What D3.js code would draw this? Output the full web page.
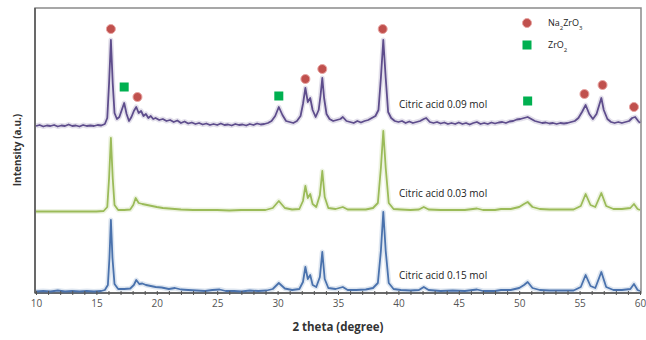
<!DOCTYPE html>
<html>
<head>
<meta charset="utf-8">
<script src="https://cdn.jsdelivr.net/npm/d3@7"></script>
<style>
  body { margin: 0; background: #fff; }
  svg { display: block; font-family: "Open Sans", sans-serif; }
</style>
</head>
<body>
<div id="chart"></div>
<script>
// x range of the scan (2 theta, degrees) and tick labels
const xTicks = [10, 15, 20, 25, 30, 35, 40, 45, 50, 55, 60]

// series names, colours and vertical offsets (a.u.)
const seriesNames = ["Citric acid 0.15 mol", "Citric acid 0.03 mol", "Citric acid 0.09 mol"]
const seriesColors = ["#4a72ad", "#9bbb59", "#5e4d8c"]
const seriesOffsets = [0, 80, 165]

// [2theta, intensity], one list per sample
const acid015 = [
  [10,1.5],[10.6,2],[11.2,1.5],[11.8,2.5],[12.4,1.5],[13,2],[13.6,1.5],[14.2,2],[14.8,1.5],[15.4,2],
  [15.7,3],[15.95,8],[16.08,35],[16.2,73],[16.33,35],[16.5,9],[16.8,4],[17.3,4],[17.8,4.5],[18.1,8],
  [18.3,13],[18.55,9],[18.8,9.5],[19.1,8],[19.5,7],[19.9,6],[20.4,5.5],[21,4],[21.5,5],[22,3.5],
  [22.6,3],[23.3,2.5],[24,2],[24.6,3],[25.2,3.5],[25.7,2],[26.4,2],[27,1.5],[27.7,2.5],[28.4,2],
  [29.1,2.5],[29.6,4],[30.1,10],[30.6,4.5],[31.2,3],[31.8,4],[32.1,11],[32.3,26],[32.5,14],[32.7,18],
  [32.9,8],[33.2,6],[33.5,16],[33.7,41],[33.9,14],[34.2,5],[34.8,4],[35.4,6],[35.8,3],[36.5,3],
  [37.3,3.5],[37.9,5],[38.3,10],[38.55,42],[38.75,81],[38.95,42],[39.2,10],[39.6,4],[40.2,3],[41,2.5],
  [41.7,3],[42.1,6],[42.5,3],[43.5,2],[44.5,2.5],[45.5,2],[46.5,3.5],[47,2],[48,2],[48.5,3],
  [49.3,3],[50,5],[50.4,8],[50.7,11],[51.1,5],[51.7,3],[52.5,2.5],[53.5,2.5],[54.5,2.5],[55.1,6],
  [55.5,18],[55.9,7],[56.3,5],[56.8,21],[57.2,6],[57.8,3],[58.5,3],[59.2,4],[59.5,9],[59.8,3],[60,2]
]
const acid003 = [
  [10,1.5],[11,1.5],[12,1.5],[13,1.5],[14,1.5],[15,1.5],[15.6,2],[15.9,6],[16.05,35],[16.2,75],
  [16.35,35],[16.5,8],[16.8,3],[17.3,3],[17.8,3.5],[18.05,8],[18.25,15],[18.5,10],[18.8,9],[19.2,8],
  [19.6,7],[20,6],[20.5,5],[21,4.5],[21.5,4],[22,3.5],[23,3],[24,3],[25,3],[26,2.5],
  [27,3],[28,3],[29,3],[29.6,5],[30.1,12],[30.6,5],[31.2,3.5],[31.8,4],[32.1,12],[32.3,27],
  [32.5,15],[32.7,19],[32.9,9],[33.2,6],[33.5,18],[33.7,42],[33.9,16],[34.2,5],[34.8,4],[35.4,6],
  [35.8,3.5],[36.5,3.5],[37.3,3.5],[37.9,5],[38.3,10],[38.55,45],[38.75,82],[38.95,45],[39.2,10],[39.6,4],
  [40.2,3.5],[41,3],[41.7,3.5],[42.1,6],[42.5,3.5],[43.5,3],[44.5,3],[45.5,3],[46.5,4.5],[47,3],
  [48,3],[48.5,4],[49.3,4],[50,6],[50.4,9],[50.7,11],[51.1,6],[51.7,4],[52.5,3.5],[53.5,3.5],
  [54.5,3.5],[55.1,7],[55.5,19],[55.9,8],[56.3,6],[56.8,20],[57.2,7],[57.8,4],[58.5,4],[59.2,5],
  [59.5,9],[59.8,4],[60,3]
]
const acid009 = [
  [10,2],[10.3,3],[10.6,1.5],[10.9,2.5],[11.2,2],[11.5,3],[11.8,1.5],[12.1,2.5],[12.4,2],[12.7,3.5],
  [13,2],[13.3,2.5],[13.6,1.5],[13.9,3],[14.2,2],[14.5,2.5],[14.8,2],[15.1,3],[15.4,2.5],[15.7,4],
  [15.9,10],[16.05,45],[16.2,88],[16.35,45],[16.5,15],[16.7,9],[16.9,11],[17.1,18],[17.3,25],[17.5,14],
  [17.7,7],[17.9,11],[18.1,17],[18.3,21],[18.5,15],[18.7,17],[18.9,12],[19.1,14],[19.3,10],[19.5,12],
  [19.7,9],[19.9,10],[20.2,8],[20.5,9],[20.8,7],[21.1,8],[21.4,6],[21.7,7.5],[22,5],[22.3,6.5],
  [22.6,4.5],[22.9,5.5],[23.2,4],[23.5,5],[23.8,3.5],[24.1,4.5],[24.4,3],[24.7,4],[25,3],[25.3,4.5],
  [25.6,3],[25.9,3.5],[26.2,2.5],[26.5,4],[26.8,3],[27.1,3.5],[27.4,2.5],[27.7,4],[28,3],[28.3,4.5],
  [28.6,3.5],[28.9,4],[29.2,5],[29.5,7],[29.8,12],[30.1,21],[30.4,13],[30.7,7],[31,6],[31.3,5],
  [31.6,7],[31.9,12],[32.1,24],[32.3,40],[32.5,26],[32.7,30],[32.9,18],[33.15,11],[33.4,18],[33.55,32],
  [33.7,50],[33.85,30],[34.05,14],[34.3,9],[34.6,7],[34.9,8],[35.2,9],[35.4,11],[35.7,7],[36,6],
  [36.3,5],[36.6,7],[36.9,5.5],[37.2,7],[37.5,8],[37.8,10],[38.1,12],[38.35,18],[38.55,50],[38.75,88],
  [38.95,50],[39.15,16],[39.4,10],[39.7,7],[40,6],[40.3,7],[40.6,5],[40.9,6.5],[41.2,5],[41.5,6],
  [41.8,7],[42.1,9],[42.3,10],[42.6,6],[42.9,5],[43.2,6],[43.5,4.5],[43.8,5.5],[44.1,4],[44.4,5],
  [44.7,4],[45,5.5],[45.3,4],[45.6,5],[45.9,3.5],[46.2,5],[46.5,6],[46.8,4],[47.1,5],[47.4,4],
  [47.7,5.5],[48,4.5],[48.3,5.5],[48.6,6],[48.9,5],[49.2,6.5],[49.5,7],[49.8,8.5],[50.1,9],[50.4,10],
  [50.7,11],[51,9],[51.3,7],[51.6,6],[51.9,5],[52.2,5.5],[52.5,4.5],[52.8,5],[53.1,4],[53.4,5],
  [53.7,4.5],[54,5],[54.3,6],[54.6,7],[54.9,10],[55.2,16],[55.5,23],[55.8,14],[56.1,9],[56.4,14],
  [56.6,22],[56.8,30],[57,18],[57.3,9],[57.6,6],[57.9,5],[58.2,6],[58.5,5],[58.8,6],[59.1,7],
  [59.35,10],[59.6,11],[59.85,7],[60,5]
]

// phase markers: [2theta, height] in plot units
const na2zro3Marks = [[16.2,264],[18.4,196],[32.3,214],[33.7,224],[38.7,264],[55.4,199],[56.9,208],[59.5,186]]
const zro2Marks = [[17.3,206],[30.1,197],[50.7,192]]

const width = 646
const height = 340
const margin = {top: 8, right: 5, bottom: 47, left: 35}

const svg = d3.select("#chart")
    .append("svg")
    .attr("width", width)
    .attr("height", height)

const x = d3.scaleLinear()
    .domain([10, 60])
    .range([margin.left + 1, width - margin.right - 1])

const y = d3.scaleLinear()
    .domain([0, 285])
    .range([height - margin.bottom, margin.top])

// plot frame (grey) and the darker left / bottom axis lines
svg.append("rect")
    .attr("x", margin.left)
    .attr("y", margin.top)
    .attr("width", width - margin.left - margin.right)
    .attr("height", height - margin.top - margin.bottom)
    .attr("fill", "none")
    .attr("stroke", "#8a8a8a")
    .attr("stroke-width", 1.5)

svg.append("line")
    .attr("x1", margin.left).attr("x2", margin.left)
    .attr("y1", margin.top).attr("y2", y(0))
    .attr("stroke", "#555").attr("stroke-width", 1.5)

svg.append("line")
    .attr("x1", margin.left).attr("x2", width - margin.right)
    .attr("y1", y(0)).attr("y2", y(0))
    .attr("stroke", "#555").attr("stroke-width", 1.5)

// traces, each one lifted by its offset
const allSeries = [acid015, acid003, acid009]
const line = d3.line()
    .x(d => x(d[0]))
    .y(d => d[1])

allSeries.forEach((s, i) => {
    const pts = s.map(d => [d[0], y(d[1] + seriesOffsets[i])])
    // soft halo like the scanned figure
    svg.append("path")
        .attr("d", line(pts))
        .attr("fill", "none")
        .attr("stroke", seriesColors[i])
        .attr("stroke-opacity", 0.18)
        .attr("stroke-width", 5)
        .attr("stroke-linejoin", "round")
    svg.append("path")
        .attr("d", line(pts))
        .attr("fill", "none")
        .attr("stroke", seriesColors[i])
        .attr("stroke-width", 1.8)
        .attr("stroke-linejoin", "round")
})

// minor ticks every degree, crossing the axis
svg.append("g")
    .attr("transform", `translate(0,${y(0) - 2})`)
    .call(d3.axisBottom(x).tickValues(d3.range(10, 61)).tickSize(4).tickFormat(""))
    .call(g => g.select(".domain").remove())
    .selectAll("line").attr("stroke", "#555")

// tick labels
svg.append("g")
    .attr("transform", `translate(0,${y(0)})`)
    .call(d3.axisBottom(x).tickValues(xTicks).tickSize(0).tickPadding(7))
    .call(g => g.select(".domain").remove())
    .selectAll("text")
    .attr("fill", "#555")
    .style("font-size", "10px")
    .style("font-family", "\"Open Sans\", sans-serif")

// axis titles
svg.append("text")
    .attr("x", 338)
    .attr("y", 331)
    .attr("text-anchor", "middle")
    .style("font-size", "11.5px")
    .style("font-weight", "bold")
    .attr("fill", "#333")
    .text("2 theta (degree)")

svg.append("text")
    .attr("transform", "translate(21,150) rotate(-90)")
    .attr("text-anchor", "middle")
    .style("font-size", "10px")
    .style("font-weight", "bold")
    .attr("fill", "#333")
    .text("Intensity (a.u.)")

// sample labels, placed just above each trace
const labelY = [275, 193, 104]
seriesNames.forEach((name, i) => {
    svg.append("text")
        .attr("x", 399)
        .attr("y", labelY[i])
        .attr("dy", "0.35em")
        .style("font-size", "10px")
        .attr("fill", "#222")
        .text(name)
})

// phase markers
const red = "#c0504d"
const green = "#00b050"
svg.append("g").selectAll("circle")
    .data(na2zro3Marks)
    .join("circle")
    .attr("cx", d => x(d[0]))
    .attr("cy", d => y(d[1]))
    .attr("r", 4.5)
    .attr("fill", red)
    .attr("stroke", "#e8a4a2")
    .attr("stroke-width", 1)

svg.append("g").selectAll("rect")
    .data(zro2Marks)
    .join("rect")
    .attr("x", d => x(d[0]) - 4.5)
    .attr("y", d => y(d[1]) - 4.5)
    .attr("width", 9)
    .attr("height", 9)
    .attr("fill", green)

// legend
const legend = svg.append("g").attr("transform", "translate(527,23)")
legend.append("circle").attr("r", 4.5).attr("fill", red).attr("stroke", "#e8a4a2")
legend.append("rect").attr("x", -4.5).attr("y", 17.5).attr("width", 9).attr("height", 9).attr("fill", green)

const t1 = legend.append("text").attr("x", 21).attr("y", 0).attr("dy", "0.35em")
    .style("font-size", "9px").attr("fill", "#222")
t1.append("tspan").text("Na")
t1.append("tspan").attr("baseline-shift", "sub").style("font-size", "6px").text("2")
t1.append("tspan").text("ZrO")
t1.append("tspan").attr("baseline-shift", "sub").style("font-size", "6px").text("3")

const t2 = legend.append("text").attr("x", 21).attr("y", 22).attr("dy", "0.35em")
    .style("font-size", "9px").attr("fill", "#222")
t2.append("tspan").text("ZrO")
t2.append("tspan").attr("baseline-shift", "sub").style("font-size", "6px").text("2")
</script>
</body>
</html>
